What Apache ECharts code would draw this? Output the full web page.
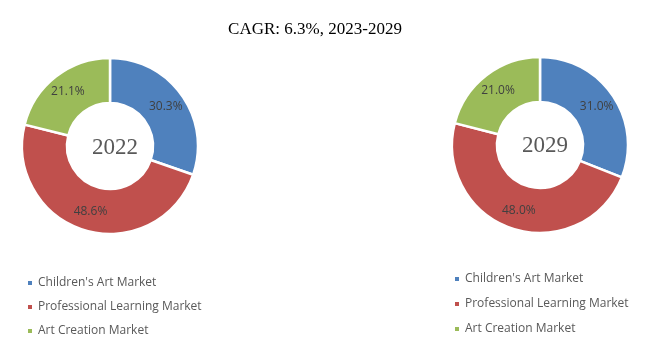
<!DOCTYPE html>
<html><head><meta charset="utf-8">
<script src="https://cdn.jsdelivr.net/npm/echarts@6/dist/echarts.min.js"></script>
<style>html,body{margin:0;padding:0;background:#fff}#c{width:650px;height:362px}</style>
</head><body><div id="c"></div>
<script>
const categories = ["Children's Art Market", "Professional Learning Market", "Art Creation Market"];
const values2022 = [30.3, 48.6, 21.1];
const values2029 = [31.0, 48.0, 21.0];
const years = ["2022", "2029"];
const titleText = "CAGR: 6.3%, 2023-2029";
const colors = ['#4F81BD', '#C0504D', '#9BBB59'];

const chart = echarts.init(document.getElementById('c'));
function mk(vals, center) {
  return {
    type: 'pie', radius: [43, 88], center: center, startAngle: 90, clockwise: true,
    avoidLabelOverlap: false,
    itemStyle: { borderColor: '#fff', borderWidth: 2.5 },
    label: { show: true, position: 'inside', color: '#404040', fontSize: 12,
      fontFamily: 'Open Sans', formatter: p => p.value.toFixed(1) + '%' },
    labelLine: { show: false },
    emphasis: { disabled: true },
    data: categories.map((n, i) => ({ name: n, value: vals[i], itemStyle: { color: colors[i] } }))
  };
}
const legendBase = {
  orient: 'vertical', icon: 'rect', itemWidth: 6, itemHeight: 6, itemGap: 12,
  textStyle: { color: '#595959', fontSize: 12, fontFamily: 'Open Sans' },
  data: categories
};
chart.setOption({
  animation: false,
  title: [
    { text: titleText, left: 310, top: 16, textAlign: 'center',
      textStyle: { fontFamily: 'Liberation Serif', fontSize: 17, fontWeight: 'normal', color: '#000' } },
    { text: years[0], left: 110, top: 131, textAlign: 'center',
      textStyle: { fontFamily: 'Liberation Serif', fontSize: 23, fontWeight: 'normal', color: '#595959' } },
    { text: years[1], left: 540, top: 129, textAlign: 'center',
      textStyle: { fontFamily: 'Liberation Serif', fontSize: 23, fontWeight: 'normal', color: '#595959' } }
  ],
  legend: [
    Object.assign({}, legendBase, { left: 21, top: 272 }),
    Object.assign({}, legendBase, { left: 448, top: 268, itemGap: 13 })
  ],
  series: [mk(values2022, [110, 146]), mk(values2029, [540, 145])]
});
</script></body></html>
